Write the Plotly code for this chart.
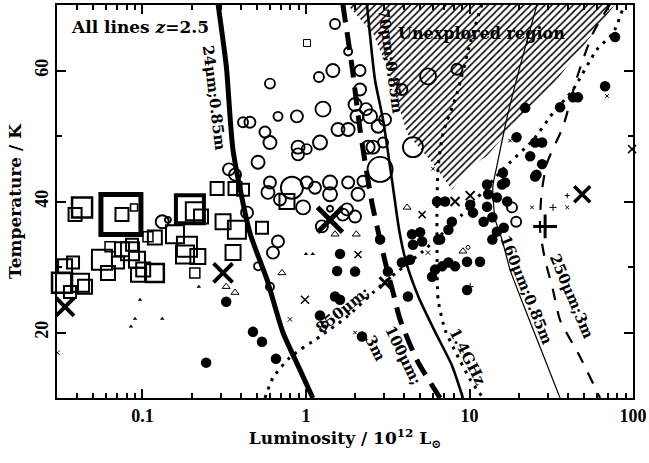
import numpy as np
import plotly.graph_objects as go

FONT = "Liberation Serif"
LFONT = "DejaVu Serif"

# ---------------- model curves (L in 1e12 Lsun, T in K) ----------------
c24_L = [0.290, 0.326, 0.358, 0.454, 0.577, 0.723, 0.919, 1.10]
c24_T = [70.1, 60.5, 47.8, 35.2, 28.1, 20.0, 14.3, 10.0]

c70_L = [2.36, 2.645, 2.96, 3.40, 3.71, 4.10, 4.90, 6.16, 7.8, 9.12]
c70_T = [70.1, 58.5, 52.5, 42.3, 35.7, 30.7, 25.3, 20.1, 15.0, 10.0]

c100_L = [1.68, 1.91, 2.14, 2.53, 3.13, 3.41, 3.76, 4.77, 6.61]
c100_T = [70.1, 60.7, 51.0, 39.8, 29.6, 26.1, 22.0, 15.8, 10.0]

c14_L = [11.9, 10.1, 8.39, 6.88, 6.43, 6.33, 6.33, 6.43, 7.09, 8.39, 10.1, 12.1]
c14_T = [70.1, 64.2, 56.5, 50.4, 45.2, 40.3, 32.7, 25.0, 20.4, 16.6, 12.8, 10.0]

c850_L = [0.561, 0.628, 0.798, 1.218, 1.78, 2.57, 3.13, 5.19, 9.0, 16.0, 24.5, 32.4, 43.0, 60.2, 75.5, 86.9]
c850_T = [10.0, 13.1, 16.2, 19.4, 22.4, 26.1, 28.0, 32.4, 38.0, 44.9, 49.4, 53.5, 57.1, 63.2, 65.7, 69.5]

c160_L = [25.9, 20.4, 17.0, 14.7, 13.9, 14.35, 15.8, 17.7, 20.4, 27.0, 35.8]
c160_T = [70.1, 60.7, 52.9, 45.4, 42.3, 37.3, 34.2, 29.6, 25.5, 17.8, 10.0]

c250_L = [72.4, 56.9, 45.5, 37.3, 29.8, 27.6, 27.0, 29.0, 32.4, 35.8, 47.4, 62.9]
c250_T = [70.1, 65.7, 59.0, 51.4, 45.9, 41.3, 35.7, 31.1, 26.5, 21.9, 16.3, 10.0]

hatch_L = [1.78, 2.57, 3.13, 3.60, 4.15, 5.98, 7.81, 9.66, 12.8, 19.5, 33.4, 47.4, 77.7]
hatch_T = [70.1, 65.7, 60.5, 55.5, 50.4, 45.8, 41.8, 44.9, 47.0, 52.2, 58.3, 63.1, 70.1]

# ---------------- sources ----------------
sq_L = [0.0738, 0.0749, 0.0888, 0.0427, 0.0387, 0.195, 0.209, 0.228, 0.286, 0.368,
        0.412, 0.538, 0.311, 0.378, 0.358, 0.209, 0.158, 0.187, 0.182, 0.218,
        0.119, 0.108, 0.0565, 0.0633, 0.0615, 0.0749, 0.0839, 0.0926, 0.101, 0.119,
        0.0939, 0.0863, 0.0708, 0.0336, 0.0376, 0.0322, 0.0415, 0.0445, 1.014, 0.765, 0.036]
sq_T = [38.0, 38.0, 39.1, 39.1, 38.0, 38.8, 38.5, 37.7, 42.0, 42.0,
        41.8, 36.0, 36.9, 35.7, 32.2, 29.1, 35.0, 33.1, 31.9, 31.6,
        34.5, 34.6, 31.1, 33.1, 29.1, 32.7, 32.4, 31.1, 29.6, 29.1,
        28.8, 33.4, 30.7, 30.1, 30.7, 27.6, 27.6, 27.0, 64.2, 40.0, 26.2]
sq_size = [40, 13, 7, 20, 13, 28, 18, 14, 13, 13, 12, 12, 15, 18, 15, 10, 18, 20, 18, 15,
           14, 10, 20, 10, 14, 14, 18, 16, 14, 18, 14, 12, 12, 14, 12, 20, 18, 14, 7, 15, 12]
sq_lw = [5, 2, 1.5, 2.5, 2, 4, 2, 2, 2, 2, 2, 2, 2, 2, 2, 1.5, 2, 2, 2, 2,
         2, 1.5, 2, 1.5, 2, 2, 2, 2, 2, 2.5, 2, 2, 2, 2, 2, 2.5, 2, 2, 1, 2, 2]

ci_L = [1.505, 1.81, 1.46, 1.20, 2.141, 0.602, 2.141, 1.27, 0.674, 0.88,
        0.412, 0.454, 0.561, 0.602, 1.57, 1.81, 1.995, 2.33, 2.465, 2.05,
        2.76, 3.045, 1.218, 0.894, 0.894, 1.01, 2.40, 2.57, 2.96, 2.838,
        0.509, 0.82, 0.602, 0.585, 1.01, 1.135, 1.403, 1.403, 1.81, 2.08,
        2.23, 0.96, 1.403, 0.436, 1.995, 3.86, 5.58, 8.38, 4.51, 0.338,
        0.368, 0.132, 0.674, 0.628, 0.509, 0.602, 1.307, 1.25, 1.78, 18.2,
        19.3, 1.68, 0.693, 0.143]
ci_T = [67.1, 62.9, 60.0, 59.0, 60.0, 58.0, 57.1, 54.1, 53.0, 53.0,
        52.1, 52.1, 50.6, 49.0, 51.0, 51.0, 54.8, 54.1, 53.0, 53.0,
        51.5, 52.5, 49.0, 48.3, 47.2, 48.0, 48.3, 48.3, 49.0, 44.9,
        46.0, 42.1, 42.9, 41.4, 42.9, 42.1, 42.9, 41.1, 42.9, 41.1,
        43.1, 39.1, 38.9, 38.3, 37.7, 57.1, 59.1, 60.2, 48.3, 44.9,
        44.1, 36.9, 33.9, 32.2, 30.1, 27.0, 21.2, 36.2, 38.8, 39.1,
        36.9, 38.0, 40.3, 37.2]
ci_size = [10, 8, 13, 10, 11, 10, 12, 15, 9, 12, 10, 11, 11, 13, 13, 13, 13, 12, 14, 13,
           13, 12, 14, 13, 12, 10, 13, 13, 10, 25, 13, 22, 12, 13, 12, 12, 14, 14, 12, 13,
           11, 14, 6, 12, 12, 11, 16, 11, 20, 12, 12, 13, 12, 12, 8, 8, 6, 12, 12, 10,
           10, 12, 12, 6]

fi_L = [0.325, 0.245, 0.474, 0.538, 0.655, 1.218, 1.615, 1.55, 1.995, 1.505,
        1.615, 2.20, 4.2, 3.86, 4.33, 3.17, 2.84, 5.9, 6.16, 7.43,
        8.16, 9.66, 11.6, 9.66, 4.99, 6.61, 4.51, 13.8, 6.33, 7.09,
        4.45, 5.13, 6.43, 7.43, 7.8, 10.5, 10.1, 12.2, 12.8, 13.8,
        14.7, 13.0, 12.8, 15.8, 16.0, 14.7, 17.0, 25.2, 19.4, 25.2,
        27.8, 23.5, 27.8, 25.7, 16.5, 16.2, 21.9, 35.8, 43.0, 46.1,
        67.5, 77.7, 6.8]
fi_T = [24.7, 15.4, 20.1, 18.6, 16.0, 22.6, 32.0, 29.4, 29.3, 25.5,
        25.0, 19.4, 25.5, 30.7, 31.1, 29.3, 34.2, 28.5, 29.6, 30.7,
        30.1, 30.8, 30.8, 26.5, 35.3, 34.2, 33.4, 34.2, 40.0, 40.0,
        35.0, 33.9, 34.2, 35.7, 36.9, 38.3, 39.5, 36.9, 39.2, 37.6,
        40.6, 41.1, 42.6, 42.6, 44.4, 35.4, 40.0, 43.8, 49.8, 49.0,
        49.0, 46.9, 45.7, 44.1, 42.9, 36.0, 54.3, 54.4, 55.9, 55.9,
        57.6, 65.1, 30.1]

xx_L = [0.0336, 0.311, 1.403, 48.9, 3.045, 10.1, 8.16, 5.13, 2.08, 0.986,
        0.798, 0.0302, 98.7, 5.58, 24.1, 39.6, 69.4, 5.98, 1.995, 17.73]
xx_T = [23.9, 29.1, 37.2, 41.1, 27.6, 40.9, 40.0, 38.0, 31.9, 25.0,
        22.0, 16.9, 48.0, 32.2, 39.1, 39.1, 56.1, 45.0, 20.0, 49.3]
xx_size = [18, 19, 25, 16, 11, 9, 9, 7, 7, 8, 4.5, 4.5, 8, 4.5, 3.6, 3.6, 3.6, 3.6, 3.6, 3.6]
xx_lw = [4, 4, 5, 3.5, 3, 2, 2, 1.5, 1.5, 1.5, 1, 1, 1.5, 1, 1, 1, 1, 1, 1, 1]

pl_L = [29.0, 32.4, 39.6, 10.1]
pl_T = [36.2, 39.1, 40.9, 27.0]
pl_size = [17, 5, 3.6, 5]
pl_lw = [3, 1, 1, 1]

tf_L = [0.0966, 0.090, 0.085, 0.132, 0.221, 0.585, 1.0, 1.10]
tf_T = [25.0, 22.1, 20.9, 22.1, 27.0, 28.1, 32.0, 32.0]

to_L = [0.325, 0.368, 0.713, 1.505, 2.03, 4.15, 9.12]
to_T = [27.0, 26.1, 29.1, 35.0, 35.0, 39.1, 32.4]

tc_L = [9.8]
tc_T = [33.0]

fig = go.Figure()

# hatched unexplored region
fig.add_trace(go.Scatter(x=hatch_L, y=hatch_T, mode="lines", fill="toself",
                         line=dict(width=0, color="rgba(0,0,0,0)"),
                         fillcolor="white",
                         fillpattern=dict(shape="/", fgcolor="black", bgcolor="white",
                                          fgopacity=1, size=5, solidity=0.3),
                         hoverinfo="skip"))

def pts(xs, ys, **mk):
    mk.setdefault("opacity", 1)
    fig.add_trace(go.Scatter(x=xs, y=ys, mode="markers", cliponaxis=False, marker=mk,
                             hoverinfo="skip"))

pts(sq_L, sq_T, symbol="square-open", size=sq_size, color="black",
    line=dict(width=sq_lw, color="black"))
pts(ci_L, ci_T, symbol="circle-open", size=ci_size, color="black",
    line=dict(width=1.9, color="black"))
pts(fi_L, fi_T, symbol="circle", size=10.5, color="black", line=dict(width=0))
pts(xx_L, xx_T, symbol="x-thin", size=xx_size, color="black",
    line=dict(width=xx_lw, color="black"))
pts(pl_L, pl_T, symbol="cross-thin", size=pl_size, color="black",
    line=dict(width=pl_lw, color="black"))
pts(tf_L, tf_T, symbol="triangle-up", size=4, color="black", line=dict(width=0))
pts(to_L, to_T, symbol="triangle-up-open", size=7, color="black",
    line=dict(width=1, color="black"))
pts(tc_L, tc_T, symbol="circle-open", size=4, color="black", line=dict(width=1, color="black"))

# curves
curves = [
    (c24_L, c24_T, dict(color="black", width=5)),
    (c70_L, c70_T, dict(color="black", width=2.6)),
    (c100_L, c100_T, dict(color="black", width=5, dash="18px,10px")),
    (c14_L, c14_T, dict(color="black", width=3, dash="3px,6px")),
    (c850_L, c850_T, dict(color="black", width=3, dash="3px,6px")),
    (c160_L, c160_T, dict(color="black", width=1.2)),
    (c250_L, c250_T, dict(color="black", width=2.2, dash="12px,11px")),
]
for xs, ys, ln in curves:
    fig.add_trace(go.Scatter(x=xs, y=ys, mode="lines", line=dict(shape="spline", smoothing=0.6, **ln),
                             hoverinfo="skip"))

lab_font = dict(family=LFONT, size=15, color="black", weight="bold")
labels = [
    ("24μm;0.85m", 0.274, 55.8, 83),
    ("70μm;0.85m", 3.27, 61.4, 82),
    ("850μm;", 1.68, 23.4, -39),
    ("3m", 2.645, 17.6, 63),
    ("100μm;", 3.9, 16.5, 64),
    ("1.4GHz", 9.7, 16.2, 63),
    ("160μm;0.85m", 22.2, 26.5, 68),
    ("250μm;3m", 42.1, 25.6, 67),
]
for txt, lx, ly, ang in labels:
    fig.add_annotation(x=np.log10(lx), y=ly, text=txt, showarrow=False, textangle=ang,
                       font=lab_font, xanchor="center", yanchor="middle")

fig.add_annotation(x=np.log10(11.8), y=65.6, text="Unexplored region", showarrow=False,
                   font=dict(family=LFONT, size=16, color="black", weight="bold"))
fig.add_annotation(xref="paper", yref="paper", x=0.02, y=0.944, xanchor="left", yanchor="middle",
                   text="All lines <i>z</i>=2.5", showarrow=False,
                   font=dict(family=LFONT, size=17, color="black", weight="bold"))

tick_font = dict(family=FONT, size=18, color="black", weight="bold")
title_font = dict(family=LFONT, size=17, color="black", weight="bold")

minor_x = [m * 10.0 ** e for e in (-2, -1, 0, 1) for m in range(2, 10) if 0.03 <= m * 10.0 ** e <= 100]

fig.update_xaxes(type="log", range=[np.log10(0.03), 2],
                 tickvals=[0.1, 1, 10, 100], ticktext=["0.1", "1", "10", "100"],
                 ticks="inside", ticklen=9, tickwidth=1.5, tickcolor="black",
                 showline=True, linewidth=2, linecolor="black", mirror="ticks",
                 showgrid=False, zeroline=False,
                 minor=dict(tickvals=minor_x, ticks="inside", ticklen=5, tickwidth=1.5,
                            tickcolor="black", showgrid=False),
                 tickfont=tick_font,
                 title=dict(text="Luminosity / 10<sup>12</sup> L<sub>⊙</sub>", font=title_font, standoff=8))
fig.update_yaxes(range=[10, 70], tickvals=[20, 40, 60], ticktext=["20", "40", "60"], tickangle=-90,
                 ticks="inside", ticklen=9, tickwidth=1.5, tickcolor="black",
                 showline=True, linewidth=2, linecolor="black", mirror="ticks",
                 showgrid=False, zeroline=False,
                 minor=dict(tickvals=[30, 50], ticks="inside", ticklen=5, tickwidth=1.5,
                            tickcolor="black", showgrid=False),
                 tickfont=tick_font,
                 title=dict(text="Temperature / K", font=title_font, standoff=6))

fig.update_layout(width=649, height=463, margin=dict(l=57, r=16, t=5, b=65, autoexpand=False),
                  showlegend=False, plot_bgcolor="white", paper_bgcolor="white")

fig.write_html("out.html")
